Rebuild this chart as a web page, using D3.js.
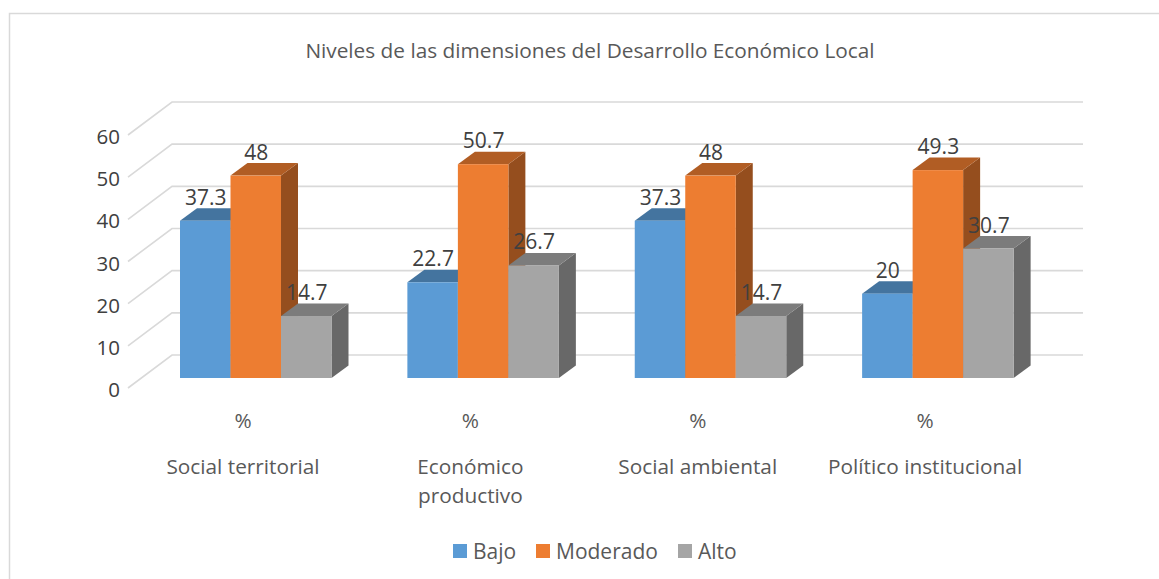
<!DOCTYPE html>
<html><head><meta charset="utf-8">
<script src="https://cdn.jsdelivr.net/npm/d3@7/dist/d3.min.js"></script>
<style>html,body{margin:0;padding:0;background:#fff}svg{display:block}text{font-family:"Open Sans",sans-serif}</style>
</head><body><svg id="c" width="1159" height="579"></svg>
<script>
const title = "Niveles de las dimensiones del Desarrollo Económico Local";
const categories = ["Social territorial", "Económico productivo", "Social ambiental", "Político institucional"];
const seriesNames = ["Bajo", "Moderado", "Alto"];
const bajo = [37.3, 22.7, 37.3, 20];
const moderado = [48, 50.7, 48, 49.3];
const alto = [14.7, 26.7, 14.7, 30.7];
const yTicks = [0, 10, 20, 30, 40, 50, 60];
const colors = ["#5b9bd5", "#ed7d31", "#a5a5a5"];
const topColors = ["#44749f", "#b15d24", "#7c7c7c"];
const sideColors = ["#376085", "#954e1e", "#686868"];

const svg = d3.select("#c");
const values = [bajo, moderado, alto];
const y = d3.scaleLinear().domain([0, 60]).range([388, 135]);
const x0 = d3.scaleBand().domain(categories).range([129.5, 1039]).paddingInner(0).paddingOuter(0);
const x1 = d3.scaleBand().domain(seriesNames).range([50.5, 202]);
const backDx = 44, backDy = -33, barDy = -10, dDx = 17, dDy = -12.5;
const textCol = "#404040";
const labelCol = "#595959";

// frame
svg.append("path").attr("d", "M9.5,579V13.5H1159").attr("fill", "none").attr("stroke", "#d9d9d9").attr("stroke-width", 1.5);
svg.append("text").attr("x", 590).attr("y", 58).attr("text-anchor", "middle").attr("font-size", 20.8).attr("fill", labelCol).text(title);

// gridlines
const grid = svg.append("g").attr("fill", "none").attr("stroke", "#d9d9d9").attr("stroke-width", 1.6);
yTicks.forEach(t => {
  const yy = y(t);
  grid.append("path").attr("d", `M128,${yy}L${128 + backDx},${yy + backDy}H1083`);
});

// axis labels
const axis = d3.axisLeft(y).tickValues(yTicks).tickSize(0).tickPadding(0);
const gA = svg.append("g").attr("transform", "translate(120,2)").call(axis);
gA.select(".domain").remove();
gA.selectAll("text").attr("font-size", 20.5).attr("fill", textCol).style("font-family", '"Open Sans",sans-serif');

// bars
const bars = svg.append("g");
categories.forEach((c, i) => {
  seriesNames.forEach((s, j) => {
    const v = values[j][i];
    const xa = x0(c) + x1(s), w = x1.bandwidth();
    const yb = y(0) + barDy, yt = y(v) + barDy;
    const g = bars.append("g");
    g.append("path").attr("fill", sideColors[j])
      .attr("d", `M${xa + w},${yt}l${dDx},${dDy}V${yb + dDy}l${-dDx},${-dDy}Z`);
    g.append("path").attr("fill", topColors[j])
      .attr("d", `M${xa},${yt}l${dDx},${dDy}h${w}l${-dDx},${-dDy}Z`);
    g.append("rect").attr("x", xa).attr("y", yt).attr("width", w).attr("height", yb - yt).attr("fill", colors[j]);
  });
});

// value labels
categories.forEach((c, i) => {
  seriesNames.forEach((s, j) => {
    const v = values[j][i];
    svg.append("text").attr("x", x0(c) + x1(s) + x1.bandwidth() / 2 + 0.5).attr("y", y(v) + barDy - 16)
      .attr("text-anchor", "middle").attr("font-size", 21).attr("fill", textCol).text(v);
  });
});

// category labels
categories.forEach(c => {
  const cx = x0(c) + 113.5;
  svg.append("text").attr("x", cx).attr("y", 428).attr("text-anchor", "middle").attr("font-size", 20.8).attr("fill", labelCol).text("%");
  const lines = c === "Económico productivo" ? ["Económico", "productivo"] : [c];
  lines.forEach((l, k) => svg.append("text").attr("x", cx).attr("y", 474 + k * 29).attr("text-anchor", "middle").attr("font-size", 20.8).attr("fill", labelCol).text(l));
});

// legend
const legendSw = [453, 536, 678], legendTx = [473, 556, 698];
seriesNames.forEach((s, j) => {
  svg.append("rect").attr("x", legendSw[j]).attr("y", 544).attr("width", 14).attr("height", 14).attr("fill", colors[j]);
  svg.append("text").attr("x", legendTx[j]).attr("y", 559).attr("font-size", 21).attr("fill", labelCol).text(s);
});
</script></body></html>
